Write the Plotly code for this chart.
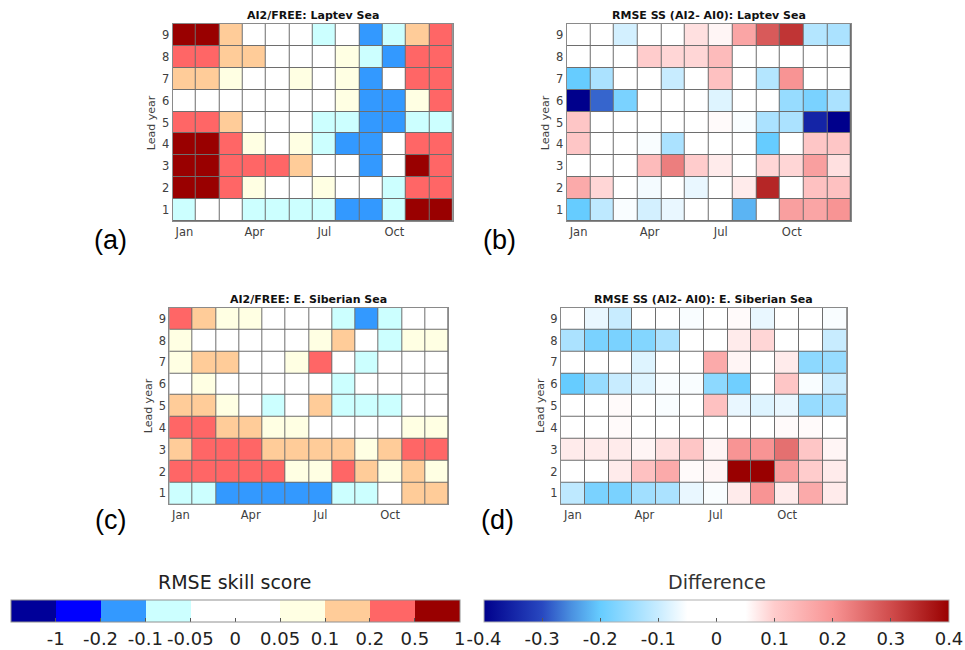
import numpy as np
import plotly.graph_objects as go

W, H = 965, 650

months = list(range(1, 13))
lead_years = list(range(1, 10))
month_tickvals = [1, 4, 7, 10]
month_ticktext = ["Jan", "Apr", "Jul", "Oct"]

# RMSE skill score bins (discrete colorbar)
ss_edges = [-1, -0.2, -0.1, -0.05, 0, 0.05, 0.1, 0.2, 0.5, 1]
ss_labels = ["-1", "-0.2", "-0.1", "-0.05", "0", "0.05", "0.1", "0.2", "0.5", "1"]
ss_colors = ["#000099", "#0000FF", "#3399FF", "#CCFFFF", "#FFFFFF",
             "#FFFFFF", "#FFFFE3", "#FFCC99", "#FF6666", "#990000"]

# Difference colorbar
diff_ticks = [-0.4, -0.3, -0.2, -0.1, 0, 0.1, 0.2, 0.3, 0.4]
diff_ticktext = ["-0.4", "-0.3", "-0.2", "-0.1", "0", "0.1", "0.2", "0.3", "0.4"]

# ---- (a) AI2/FREE: Laptev Sea  (rows = lead year 1..9, cols = Jan..Dec)
laptev_ss = [
    [-0.07, 0.00, 0.00, -0.07, -0.07, -0.07, -0.07, -0.15, -0.15, -0.07, 0.60, 0.60],
    [0.60, 0.60, 0.30, 0.07, 0.00, 0.00, 0.07, 0.00, 0.00, -0.07, 0.30, 0.30],
    [0.60, 0.60, 0.30, 0.30, 0.30, 0.15, 0.00, 0.00, -0.15, 0.00, 0.60, 0.30],
    [0.60, 0.60, 0.30, 0.07, 0.00, 0.07, -0.07, -0.15, -0.15, 0.00, 0.30, 0.30],
    [0.30, 0.30, 0.15, 0.00, 0.00, 0.00, -0.07, -0.07, -0.15, -0.15, -0.07, -0.07],
    [0.00, 0.00, 0.00, 0.00, 0.00, 0.00, 0.00, 0.07, -0.15, -0.15, 0.07, 0.30],
    [0.15, 0.15, 0.07, 0.00, 0.00, 0.07, 0.00, 0.07, -0.15, 0.00, 0.30, 0.30],
    [0.30, 0.30, 0.15, 0.15, 0.00, 0.00, 0.00, 0.07, -0.07, -0.15, 0.30, 0.30],
    [0.60, 0.60, 0.15, 0.00, 0.00, 0.00, -0.07, 0.00, -0.15, -0.07, 0.15, 0.30],
]

# ---- (b) RMSE SS (AI2- AI0): Laptev Sea
laptev_diff = [
    [-0.20, -0.11, -0.055, -0.09, -0.07, 0.00, 0.00, -0.22, 0.00, 0.18, 0.17, 0.20],
    [0.16, 0.09, 0.00, -0.06, 0.00, -0.07, 0.00, 0.07, 0.35, 0.00, 0.12, 0.12],
    [0.00, 0.00, 0.00, 0.13, 0.23, 0.10, 0.07, 0.00, 0.09, 0.09, 0.18, 0.08],
    [0.11, 0.00, 0.00, -0.055, -0.13, 0.00, 0.00, 0.00, -0.20, 0.00, 0.11, 0.11],
    [0.11, 0.00, 0.00, 0.00, 0.00, 0.00, 0.055, -0.055, -0.13, -0.13, -0.35, -0.40],
    [-0.40, -0.28, -0.18, 0.00, 0.00, 0.00, -0.08, 0.00, 0.00, -0.15, -0.18, -0.13],
    [-0.20, -0.13, 0.00, 0.00, -0.10, 0.00, 0.12, 0.00, -0.12, 0.20, 0.00, 0.00],
    [0.00, 0.00, 0.00, 0.10, 0.09, 0.09, 0.13, 0.00, 0.00, 0.00, 0.00, 0.00],
    [0.00, 0.00, -0.09, 0.00, 0.00, 0.08, 0.06, 0.17, 0.28, 0.33, -0.12, -0.13],
]

# ---- (c) AI2/FREE: E. Siberian Sea
esib_ss = [
    [-0.07, -0.07, -0.15, -0.15, -0.15, -0.15, -0.15, -0.07, -0.07, 0.00, 0.15, 0.15],
    [0.30, 0.30, 0.30, 0.30, 0.30, 0.07, 0.07, 0.30, 0.15, 0.07, 0.15, 0.07],
    [0.15, 0.30, 0.30, 0.30, 0.15, 0.15, 0.15, 0.15, 0.07, 0.15, 0.30, 0.30],
    [0.30, 0.30, 0.15, 0.15, 0.07, 0.07, 0.00, 0.00, 0.00, 0.00, 0.07, 0.07],
    [0.15, 0.15, 0.07, 0.00, -0.07, 0.00, 0.15, -0.07, -0.07, -0.07, 0.00, 0.00],
    [0.00, 0.07, 0.00, 0.00, 0.00, 0.00, 0.00, -0.07, 0.00, 0.00, 0.00, 0.00],
    [0.07, 0.15, 0.15, 0.00, 0.00, 0.07, 0.30, 0.00, -0.07, 0.00, 0.00, 0.00],
    [0.07, 0.00, 0.00, 0.00, 0.00, 0.00, 0.07, 0.15, 0.00, -0.07, 0.07, 0.07],
    [0.30, 0.15, 0.07, 0.07, 0.00, 0.00, 0.00, -0.07, -0.15, -0.07, 0.00, 0.00],
]

# ---- (d) RMSE SS (AI2- AI0): E. Siberian Sea
esib_diff = [
    [-0.11, -0.18, -0.18, -0.14, -0.13, -0.07, -0.055, 0.07, 0.20, 0.07, 0.16, 0.07],
    [0.00, 0.00, 0.07, 0.12, 0.16, 0.055, 0.06, 0.40, 0.40, 0.18, 0.10, 0.07],
    [0.07, 0.07, 0.07, 0.06, 0.08, 0.11, 0.06, 0.20, 0.20, 0.25, 0.11, 0.06],
    [0.00, 0.00, 0.055, 0.00, 0.00, 0.00, 0.00, 0.00, 0.00, 0.055, 0.055, 0.00],
    [0.00, 0.00, 0.055, 0.00, -0.055, 0.00, 0.12, -0.07, -0.08, -0.07, -0.15, -0.14],
    [-0.20, -0.15, -0.10, -0.08, -0.055, -0.055, -0.16, -0.19, 0.00, 0.11, -0.055, -0.10],
    [0.00, 0.00, 0.00, -0.08, 0.00, 0.00, 0.16, 0.06, 0.00, 0.07, -0.16, -0.15],
    [-0.13, -0.18, -0.18, -0.17, -0.13, 0.00, 0.00, 0.07, 0.09, 0.00, 0.00, -0.10],
    [0.00, -0.07, -0.10, 0.00, 0.00, -0.055, 0.00, 0.055, -0.07, 0.00, 0.00, -0.055],
]

panel_titles = ["AI2/FREE: Laptev Sea", "RMSE SS (AI2- AI0): Laptev Sea",
                "AI2/FREE: E. Siberian Sea", "RMSE SS (AI2- AI0): E. Siberian Sea"]
panel_letters = ["(a)", "(b)", "(c)", "(d)"]


def px_x(p):
    return p / W


def px_y(p):
    return 1 - p / H


def ss_bin(values):
    idx = np.digitize(np.array(values), ss_edges)
    return np.clip(idx, 0, 9) + 0.5


ss_scale = []
for i, c in enumerate(ss_colors):
    ss_scale.append([i / 10, c])
    ss_scale.append([(i + 1) / 10, c])

diff_scale = [
    [0.0, "#00008C"],
    [0.125, "#2848C0"],
    [0.1875, "#4A90E0"],
    [0.25, "#66CCFF"],
    [0.375, "#C8ECFF"],
    [0.4375, "#FFFFFF"],
    [0.5625, "#FFFFFF"],
    [0.625, "#FFCCCC"],
    [0.75, "#F89494"],
    [0.875, "#D04C4C"],
    [1.0, "#990000"],
]

# panel boxes in pixels: (left, right, top, bottom)
boxes = [
    (172.7, 452.7, 24, 221),
    (566.7, 851.0, 24, 221),
    (169.3, 448.3, 307.7, 504.3),
    (561.0, 846.7, 307.7, 504.3),
]

FONT = "DejaVu Sans"
TICKC = "#404040"
fig = go.Figure()

cb_ss = dict(
    orientation="h", x=px_x(10.7), xanchor="left", y=px_y(600), yanchor="top",
    len=449.3 / W, lenmode="fraction", thickness=22, thicknessmode="pixels",
    xpad=0, ypad=0, outlinecolor="#909090", outlinewidth=1,
    tickmode="array", tickvals=list(range(1, 11)), ticktext=ss_labels,
    ticks="inside", ticklen=4, tickcolor="#555555",
    tickfont=dict(family=FONT, size=18, color="#222222"),
)
cb_diff = dict(
    orientation="h", x=px_x(484), xanchor="left", y=px_y(600), yanchor="top",
    len=465 / W, lenmode="fraction", thickness=22, thicknessmode="pixels",
    xpad=0, ypad=0, outlinecolor="#b0b0b0", outlinewidth=1,
    tickmode="array", tickvals=diff_ticks, ticktext=diff_ticktext,
    ticks="inside", ticklen=4, tickcolor="#555555",
    tickfont=dict(family=FONT, size=18, color="#222222"),
)

data_sets = [laptev_ss, laptev_diff, esib_ss, esib_diff]
for k, data in enumerate(data_sets):
    ax = "" if k == 0 else str(k + 1)
    if k in (0, 2):
        fig.add_trace(go.Heatmap(
            x=months, y=lead_years, z=ss_bin(data), zmin=0, zmax=10,
            colorscale=ss_scale, showscale=(k == 0), colorbar=cb_ss,
            xgap=1, ygap=1, hoverinfo="skip",
            xaxis="x" + ax, yaxis="y" + ax))
    else:
        fig.add_trace(go.Heatmap(
            x=months, y=lead_years, z=data, zmin=-0.4, zmax=0.4,
            colorscale=diff_scale, showscale=(k == 1), colorbar=cb_diff,
            xgap=1, ygap=1, hoverinfo="skip",
            xaxis="x" + ax, yaxis="y" + ax))

layout = dict(
    width=W, height=H,
    margin=dict(l=0, r=0, t=0, b=0, autoexpand=False),
    paper_bgcolor="white", plot_bgcolor="#6e6e6e",
    showlegend=False,
)

annotations = []
for k, (l, r, t, b) in enumerate(boxes):
    ax = "" if k == 0 else str(k + 1)
    layout["xaxis" + ax] = dict(
        domain=[px_x(l), px_x(r)], anchor="y" + ax, range=[0.5, 12.5],
        tickmode="array", tickvals=month_tickvals, ticktext=month_ticktext,
        ticks="", tickfont=dict(family=FONT, size=11.5, color=TICKC),
        showgrid=False, zeroline=False, showline=True, mirror=True,
        linecolor="#8a8a8a", linewidth=1, fixedrange=True)
    layout["yaxis" + ax] = dict(
        domain=[px_y(b), px_y(t)], anchor="x" + ax, range=[0.5, 9.5],
        tickmode="array", tickvals=lead_years, ticktext=[str(v) for v in lead_years],
        ticks="", tickfont=dict(family=FONT, size=11.5, color=TICKC),
        showgrid=False, zeroline=False, showline=True, mirror=True,
        linecolor="#8a8a8a", linewidth=1, fixedrange=True)
    # panel title
    annotations.append(dict(
        text="<b>" + panel_titles[k] + "</b>", xref="paper", yref="paper",
        x=px_x((l + r) / 2), y=px_y(t - 8), xanchor="center", yanchor="middle",
        showarrow=False, font=dict(family=FONT, size=11, color="#111111")))
    # Lead year label
    annotations.append(dict(
        text="Lead year", xref="paper", yref="paper",
        x=px_x(l - 21), y=px_y((t + b) / 2), xanchor="center", yanchor="middle",
        textangle=-90, showarrow=False,
        font=dict(family=FONT, size=11, color=TICKC)))

letter_pos = [(110, 240), (500, 240), (110, 520), (497, 520)]
for k, (lx, ly) in enumerate(letter_pos):
    annotations.append(dict(
        text=panel_letters[k], xref="paper", yref="paper",
        x=px_x(lx), y=px_y(ly), xanchor="center", yanchor="middle",
        showarrow=False, font=dict(family="Liberation Sans", size=27, color="black")))

annotations.append(dict(
    text="RMSE skill score", xref="paper", yref="paper",
    x=px_x(235), y=px_y(582), xanchor="center", yanchor="middle",
    showarrow=False, font=dict(family=FONT, size=19, color="#222222")))
annotations.append(dict(
    text="Difference", xref="paper", yref="paper",
    x=px_x(716.5), y=px_y(582), xanchor="center", yanchor="middle",
    showarrow=False, font=dict(family=FONT, size=19, color="#333333")))

layout["annotations"] = annotations
fig.update_layout(**layout)
fig.write_html("out.html")
